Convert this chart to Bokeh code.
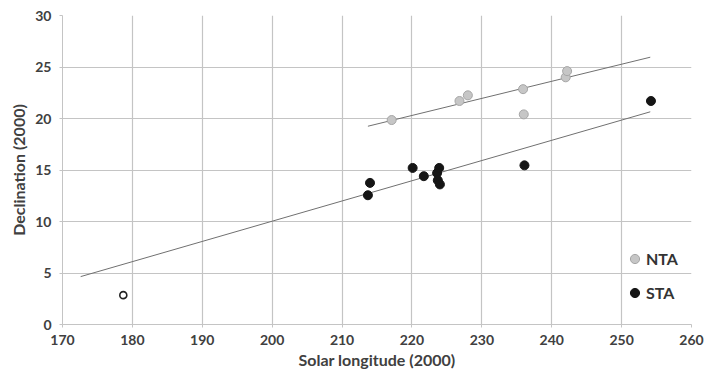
from bokeh.plotting import figure
from bokeh.models import Legend, LegendItem, Range1d, FixedTicker
from bokeh.embed import file_html
from bokeh.resources import INLINE

# NTA data
nta_lon = [217.1, 226.8, 228.0, 235.9, 236.0, 242.0, 242.2]
nta_dec = [19.85, 21.7, 22.25, 22.85, 20.4, 24.0, 24.6]
# STA data
sta_lon = [213.7, 214.0, 220.1, 221.7, 223.6, 223.9, 223.7, 224.0, 236.1, 254.2]
sta_dec = [12.55, 13.75, 15.2, 14.4, 14.7, 15.2, 14.0, 13.6, 15.45, 21.7]
# outlier (open circle)
out_lon = [178.7]
out_dec = [2.85]
# trend lines (end points)
nta_fit_lon = [213.7, 254.1]
nta_fit_dec = [19.25, 25.95]
sta_fit_lon = [172.6, 254.1]
sta_fit_dec = [4.65, 20.65]

x_ticks = [170, 180, 190, 200, 210, 220, 230, 240, 250, 260]
y_ticks = [0, 5, 10, 15, 20, 25, 30]

FONT = "Lato"
TXT = "#404040"
GRID = "#c4c4c4"

p = figure(width=706, height=374, output_backend="svg", toolbar_location=None,
           x_range=Range1d(170, 260), y_range=Range1d(0, 30),
           min_border_left=62, min_border_right=15, min_border_top=15, min_border_bottom=50)
p.outline_line_color = None
p.background_fill_color = "white"

p.xaxis.ticker = FixedTicker(ticks=x_ticks)
p.yaxis.ticker = FixedTicker(ticks=y_ticks)
p.xgrid.ticker = FixedTicker(ticks=x_ticks)
p.ygrid.ticker = FixedTicker(ticks=y_ticks)
for g in (p.xgrid, p.ygrid):
    g.grid_line_color = GRID
    g.grid_line_width = 1.2

for ax in (p.xaxis, p.yaxis):
    ax.axis_line_color = GRID
    ax.major_tick_line_color = GRID
    ax.major_tick_out = 3
    ax.major_tick_in = 0
    ax.minor_tick_line_color = None
    ax.major_label_text_font = FONT
    ax.major_label_text_font_style = "bold"
    ax.major_label_text_font_size = "14px"
    ax.major_label_text_color = TXT
    ax.axis_label_text_font = FONT
    ax.axis_label_text_font_style = "bold"
    ax.axis_label_text_font_size = "16px"
    ax.axis_label_text_color = TXT
p.xaxis.axis_label = "Solar longitude (2000)"
p.yaxis.axis_label = "Declination (2000)"
p.xaxis.major_label_standoff = 7
p.yaxis.major_label_standoff = 8
p.xaxis.axis_label_standoff = 2
p.yaxis.axis_label_standoff = 4

p.line(nta_fit_lon, nta_fit_dec, line_color="#707070", line_width=1)
p.line(sta_fit_lon, sta_fit_dec, line_color="#707070", line_width=1)

r_nta = p.scatter(nta_lon, nta_dec, size=9, fill_color="#c6c6c6", line_color="#a6a6a6", line_width=1)
r_sta = p.scatter(sta_lon, sta_dec, size=9, fill_color="#151515", line_color="#151515", line_width=1)
p.scatter(out_lon, out_dec, size=7, fill_color="white", line_color="#222222", line_width=1.6)

legend = Legend(items=[LegendItem(label="NTA", renderers=[r_nta]),
                       LegendItem(label="STA", renderers=[r_sta])],
                location=(561, 20), margin=0, padding=0, spacing=11,
                glyph_width=23, glyph_height=23, label_height=23, label_standoff=0,
                border_line_color=None, background_fill_alpha=0,
                label_text_font=FONT, label_text_font_style="bold",
                label_text_font_size="16px", label_text_color="#333333")
p.add_layout(legend, "center")

open("out.html", "w").write(file_html(p, INLINE))
